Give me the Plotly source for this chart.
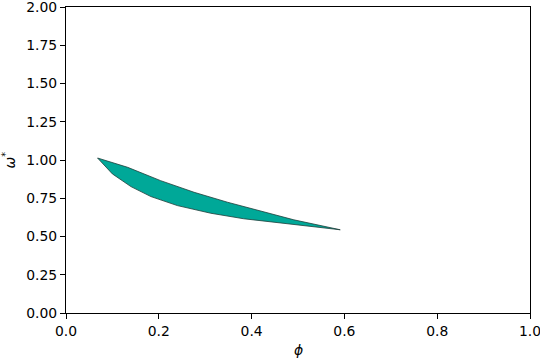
import plotly.graph_objects as go

upper_phi = [0.068, 0.133, 0.204, 0.276, 0.348, 0.419, 0.491, 0.591]
upper_omega = [1.013, 0.952, 0.865, 0.789, 0.724, 0.665, 0.609, 0.544]
lower_phi = [0.068, 0.100, 0.140, 0.183, 0.240, 0.312, 0.383, 0.455, 0.527, 0.591]
lower_omega = [1.013, 0.909, 0.826, 0.761, 0.702, 0.652, 0.616, 0.587, 0.566, 0.544]

xs = upper_phi + lower_phi[::-1]
ys = upper_omega + lower_omega[::-1]

fig = go.Figure()
fig.add_trace(go.Scatter(x=xs, y=ys, mode="lines", fill="toself",
                         fillcolor="#00A898", line=dict(color="#1f3d3a", width=0.8),
                         hoverinfo="skip", showlegend=False))

font = dict(family="DejaVu Sans", size=13.9, color="black")
axis_common = dict(showgrid=False, zeroline=False, showline=True, linecolor="black",
                   linewidth=1, mirror=True, ticks="outside", ticklen=5, tickwidth=1,
                   tickcolor="black", tickfont=font, ticklabeloverflow="allow",
                   automargin=False)
fig.update_layout(
    width=540, height=360,
    margin=dict(l=66, r=10, t=7, b=47, pad=0, autoexpand=False),
    plot_bgcolor="white", paper_bgcolor="white",
    font=font,
    xaxis=dict(range=[0, 1], tickvals=[0, 0.2, 0.4, 0.6, 0.8, 1.0],
               ticktext=["0.0", "0.2", "0.4", "0.6", "0.8", "1.0"], **axis_common),
    yaxis=dict(range=[0, 2], tickvals=[0, 0.25, 0.5, 0.75, 1.0, 1.25, 1.5, 1.75, 2.0],
               ticktext=["0.00", "0.25", "0.50", "0.75", "1.00", "1.25", "1.50", "1.75", "2.00"],
               **axis_common),
    annotations=[
        dict(text="<i>ϕ</i>", x=0.5, y=-0.12, xref="paper", yref="paper",
             showarrow=False, font=font, xanchor="center", yanchor="middle"),
        dict(text="<i>ω</i><sup>*</sup>", x=-0.122, y=0.5, xref="paper", yref="paper",
             showarrow=False, font=font, textangle=-90, xanchor="center", yanchor="middle"),
    ],
)
fig.write_html("out.html", config={"displayModeBar": False},
               post_script="document.body.style.margin='0';document.body.style.padding='0';")
